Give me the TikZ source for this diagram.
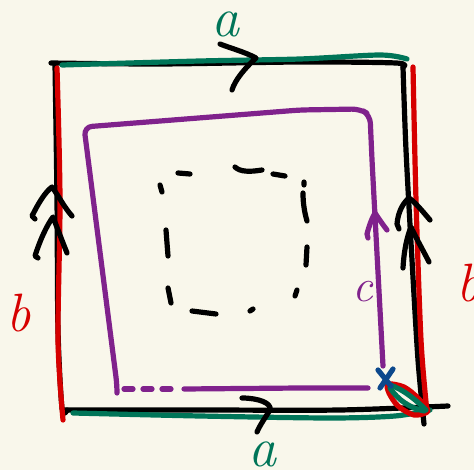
\documentclass[tikz,border=0pt]{standalone}
\usepackage{fontspec}
\usepackage{tikz}
\usetikzlibrary{calc}
\definecolor{paper}{RGB}{249,247,235}
\definecolor{penA}{RGB}{0,117,88}
\definecolor{penB}{RGB}{214,0,0}
\definecolor{penC}{RGB}{128,34,140}
\definecolor{penX}{RGB}{12,72,140}

\begin{document}
\begin{tikzpicture}[
  x=1pt, y=-1pt,
  pen/.style={line width=5.2pt, line cap=round, line join=round},
  blackpen/.style={pen, black},
  apen/.style={pen, penA},
  bpen/.style={pen, penB},
  cpen/.style={pen, penC, rounded corners=8pt},
  lbl/.style={font=\fontsize{#1}{#1}\selectfont\itshape, inner sep=0pt},
]
\fill[paper] (0,0) rectangle (474,470);
\useasboundingbox (0,0) rectangle (474,470);

% outer square, black
\draw[blackpen] plot[smooth] coordinates {(51,63) (160,64) (300,62) (396,63) (403,67)};
\draw[blackpen] plot[smooth] coordinates {(403,67) (406,150) (412,260) (418,360) (424,424)};
\draw[blackpen] plot[smooth] coordinates {(64,410) (200,410) (340,410) (448,406)};
\draw[blackpen] plot[smooth] coordinates {(55,64) (57,200) (58,330) (62,408) (67,410)};

% edges a (green) and b (red)
\draw[apen] plot[smooth] coordinates {(62,65) (200,61) (300,59) (380,55) (407,59)};
\draw[apen] plot[smooth] coordinates {(73,413) (200,416) (330,418) (395,416) (430,410)};
\draw[bpen] plot[smooth] coordinates {(57,68) (60,200) (58,340) (63,420)};
\draw[bpen] plot[smooth] coordinates {(413,67) (416,200) (421,340) (427,412)};

% arrows on the edges
\draw[blackpen] (220,44) .. controls (230,48) and (245,52) .. (256,58) .. controls (245,68) and (235,80) .. (232,90);
\draw[blackpen] (242,398) .. controls (258,398) and (272,403) .. (270,410) .. controls (265,418) and (260,425) .. (257,432);
\draw[blackpen] (35,219) -- (32,216) .. controls (38,204) and (45,192) .. (52,187) .. controls (58,195) and (64,207) .. (72,216);
\draw[blackpen] (38,258) -- (35,256) .. controls (40,240) and (47,225) .. (53,217) .. controls (58,230) and (63,243) .. (67,253);
\draw[blackpen] (399,229) -- (397,224) .. controls (398,212) and (403,203) .. (409,198) .. controls (416,203) and (424,213) .. (430,220);
\draw[blackpen] (403,268) .. controls (404,250) and (407,237) .. (411,227) .. controls (417,240) and (424,252) .. (429,262);

% loop c, purple
\draw[cpen] (117,389) -- (117,385) -- (84,127) -- (300,110) -- (360,109) -- (370,115) -- (372,160) -- (383,366);
\draw[pen, penC, dash pattern=on 9pt off 10pt] (124,389) -- (178,389);
\draw[pen, penC] (184,389) -- (300,388) -- (368,388);
\draw[pen, penC] (368,238) -- (367,234) .. controls (369,226) and (372,218) .. (375,213) .. controls (379,219) and (383,225) .. (387,230);

% base point and small loop at the corner
\draw[bpen] plot[smooth cycle] coordinates {(388,384) (404,387) (418,398) (428,411) (414,415) (398,406) (389,393)};
\draw[apen] (390,385) .. controls (405,390) and (418,402) .. (426,410);
\draw[apen] (390,388) .. controls (398,400) and (410,408) .. (424,411);
\draw[pen, penX] (378,370) -- (391,386);
\draw[pen, penX] (393,369) -- (380,388);

% dashed inner square
\draw[blackpen] (160,185) -- (162,192) (178,173) -- (190,174)
  (235,167) .. controls (240,172) and (250,172) .. (262,170)
  (273,174) -- (285,176) (304,182) -- (304,185)
  (303,193) .. controls (303,205) and (305,214) .. (307,221)
  (307,247) -- (306,265) (297,290) -- (295,296)
  (253,309) -- (250,311) (192,311) -- (216,314)
  (168,288) -- (171,303) (166,230) -- (168,256);

% labels
\node[lbl=56, text=penA] (aTop) at (225,24) {a};
\node[lbl=56, text=penA] (aBot) at (262,454) {a};
\node[lbl=54, text=penB] (bLeft) at (19,313) {b};
\node[lbl=54, text=penB, anchor=west] (bRight) at (456,283) {b};
\node[lbl=46, text=penC] (cLab) at (363,292) {c};
\end{tikzpicture}
\end{document}
